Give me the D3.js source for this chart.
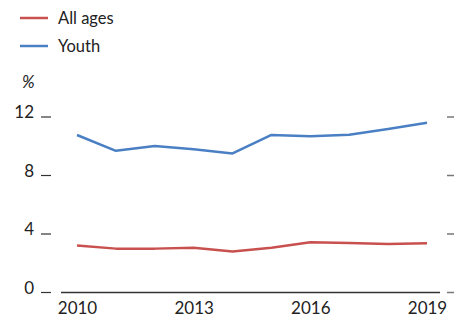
<!DOCTYPE html>
<html><head><meta charset="utf-8">
<script src="https://cdn.jsdelivr.net/npm/d3@7"></script>
<style>body{margin:0;background:#fff}svg{display:block;font-family:Lato,sans-serif}</style>
</head><body>
<svg id="c" width="454" height="320"></svg>
<script>
const years = [2010,2011,2012,2013,2014,2015,2016,2017,2018,2019];
const allAges = [3.22,3.0,3.0,3.06,2.81,3.06,3.43,3.38,3.31,3.36];
const youth = [10.77,9.69,10.01,9.79,9.51,10.77,10.68,10.79,11.18,11.61];
const yTicks = [0,4,8,12];
const xTicks = [2010,2013,2016,2019];
const seriesNames = ["All ages","Youth"];
const colors = ["#c8504f","#4a80c3"];

const svg = d3.select("#c");
const x = d3.scaleLinear().domain([2010,2019]).range([77,427]);
const y = d3.scaleLinear().domain([0,12]).range([292.5,117]);

// baseline
svg.append("line").attr("x1",61).attr("x2",440).attr("y1",y(0)).attr("y2",y(0))
  .attr("stroke","#333").attr("stroke-width",1.3);

// left ticks
const gl = svg.append("g");
yTicks.forEach(t=>{
  gl.append("line").attr("x1",41).attr("x2",51).attr("y1",y(t)).attr("y2",y(t)).attr("stroke","#333").attr("stroke-width",1.2);
  gl.append("text").attr("x",34).attr("y",y(t)+1).attr("text-anchor","end")
    .attr("font-size",17).attr("fill","#222").text(t);
});
// right ticks
yTicks.forEach(t=>{
  svg.append("line").attr("x1",447).attr("x2",454).attr("y1",y(t)).attr("y2",y(t)).attr("stroke","#777").attr("stroke-width",1.5);
});
// x labels
xTicks.forEach(t=>{
  svg.append("text").attr("x",x(t)+0.5).attr("y",313.5).attr("text-anchor","middle")
    .attr("font-size",17).attr("fill","#222").text(t);
});
// % label
svg.append("text").attr("x",22).attr("y",88).attr("font-size",17).attr("font-style","italic").attr("fill","#222").text("%");

// lines
const line = d3.line().x((d,i)=>x(years[i])).y(d=>y(d));
[allAges,youth].forEach((s,k)=>{
  svg.append("path").attr("d",line(s)).attr("fill","none").attr("stroke",colors[k])
    .attr("stroke-width",2.5).attr("stroke-linejoin","round");
});

// legend
const legY = [18,46];
seriesNames.forEach((n,k)=>{
  svg.append("line").attr("x1",20).attr("x2",48).attr("y1",legY[k]).attr("y2",legY[k]).attr("stroke",colors[k]).attr("stroke-width",2.5);
  svg.append("text").attr("x",58).attr("y",legY[k]+6).attr("font-size",16.5).attr("fill","#222").text(n);
});
</script>
</body></html>
